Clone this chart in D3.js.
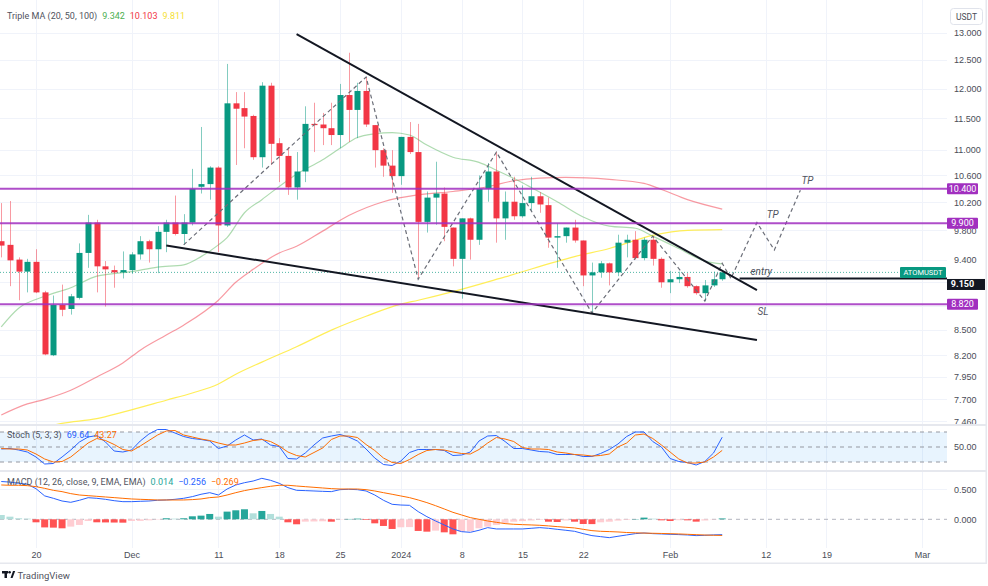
<!DOCTYPE html>
<html>
<head>
<meta charset="utf-8">
<script src="https://cdn.jsdelivr.net/npm/d3@7"></script>
<style>
  body { margin: 0; background: #ffffff; }
  svg { display: block; font-family: Roboto, "Liberation Sans", sans-serif; }
</style>
</head>
<body>
<svg id="chart" width="988" height="586" viewBox="0 0 988 586"></svg>
<script>
  // ATOM/USDT daily candles, 16 Nov 2023 .. 7 Feb 2024
  const firstDay = "2023-11-16";

  // [open, high, low, close]
  const ohlc = [
    [9.65, 10.19, 9.43, 9.59], [9.60, 10.22, 9.05, 9.39], [9.40, 9.43, 8.87, 9.24], [9.24, 9.41, 8.97, 9.37],
    [9.37, 9.54, 8.96, 8.97], [8.97, 8.99, 8.20, 8.21], [8.20, 8.93, 8.19, 8.81], [8.81, 9.07, 8.67, 8.75],
    [8.76, 8.95, 8.69, 8.92], [8.90, 9.62, 8.88, 9.49], [9.49, 10.02, 9.29, 9.91], [9.91, 9.95, 8.97, 9.31],
    [9.31, 9.38, 8.79, 9.27], [9.26, 9.32, 9.03, 9.23], [9.23, 9.51, 9.15, 9.26], [9.26, 9.50, 9.21, 9.47],
    [9.47, 9.72, 9.40, 9.65], [9.65, 9.67, 9.36, 9.54], [9.54, 9.86, 9.22, 9.78], [9.78, 9.95, 9.50, 9.91],
    [9.91, 10.30, 9.73, 9.75], [9.75, 10.03, 9.60, 9.91], [9.91, 10.70, 9.87, 10.40], [10.43, 11.36, 10.33, 10.47],
    [10.47, 10.74, 10.24, 10.72], [10.72, 10.74, 9.50, 9.87], [9.87, 12.43, 9.85, 11.75], [11.75, 11.94, 10.76, 11.66],
    [11.67, 11.94, 11.02, 11.53], [11.54, 11.56, 10.84, 10.88], [10.88, 12.11, 10.72, 12.05], [12.05, 12.10, 10.76, 11.09],
    [11.10, 11.18, 10.50, 10.90], [10.90, 11.04, 10.31, 10.42], [10.42, 10.96, 10.24, 10.66], [10.66, 11.70, 10.50, 11.41],
    [11.41, 11.76, 10.96, 11.39], [11.40, 11.59, 11.07, 11.34], [11.34, 11.76, 11.07, 11.23], [11.23, 12.08, 11.02, 11.89],
    [11.89, 12.63, 11.12, 11.64], [11.64, 12.10, 11.18, 11.96], [11.96, 12.20, 11.36, 11.40], [11.39, 11.39, 10.72, 10.99],
    [10.99, 11.02, 10.58, 10.75], [10.75, 10.99, 10.34, 10.59], [10.59, 11.20, 10.46, 11.20], [11.20, 11.44, 10.93, 10.96],
    [10.96, 11.41, 9.14, 9.92], [9.92, 10.36, 9.77, 10.27], [10.27, 10.81, 9.88, 10.33], [10.33, 10.42, 9.65, 9.85],
    [9.84, 9.84, 9.31, 9.41], [9.41, 9.97, 8.89, 9.97], [9.97, 9.98, 9.40, 9.67], [9.67, 10.60, 9.60, 10.40],
    [10.40, 10.79, 10.21, 10.66], [10.66, 10.96, 9.63, 9.97], [9.97, 10.36, 9.67, 10.21], [10.21, 10.58, 9.95, 10.00],
    [10.00, 10.45, 9.98, 10.19], [10.19, 10.58, 10.07, 10.29], [10.29, 10.35, 10.05, 10.17], [10.16, 10.27, 9.56, 9.70],
    [9.70, 9.90, 9.29, 9.72], [9.72, 9.84, 9.63, 9.84], [9.84, 9.95, 9.63, 9.66], [9.66, 9.66, 9.05, 9.19],
    [9.19, 9.36, 8.71, 9.23], [9.23, 9.38, 9.16, 9.35], [9.35, 9.36, 9.06, 9.23], [9.23, 9.74, 9.18, 9.63],
    [9.63, 9.74, 9.43, 9.67], [9.67, 9.79, 9.40, 9.42], [9.42, 9.70, 9.39, 9.67], [9.67, 9.72, 9.32, 9.41],
    [9.41, 9.43, 9.03, 9.10], [9.10, 9.25, 8.96, 9.14], [9.14, 9.24, 9.09, 9.17], [9.17, 9.22, 9.03, 9.05],
    [9.05, 9.06, 8.94, 8.96], [8.96, 9.13, 8.86, 9.06], [9.06, 9.24, 9.04, 9.14], [9.14, 9.24, 9.12, 9.23]
  ];

  // moving averages: [candle index, value]
  const ma20 = [[0, 8.54], [2, 8.77], [5, 8.92], [8, 9.03], [11, 9.18], [15, 9.24], [18, 9.30], [21, 9.33],
    [23, 9.44], [25, 9.60], [26, 9.70], [28, 10.05], [30, 10.24], [34, 10.62], [37, 10.84], [39, 11.02],
    [41, 11.19], [43, 11.25], [45, 11.27], [47, 11.23], [49, 11.07], [52, 10.88], [55, 10.80], [57, 10.68],
    [60, 10.49], [61, 10.42], [64, 10.21], [67, 9.99], [70, 9.86], [73, 9.83], [75, 9.72], [78, 9.55],
    [81, 9.38], [83, 9.342]];
  const ma50 = [[0, 7.53], [3, 7.65], [5, 7.70], [8, 7.80], [11, 7.95], [14, 8.11], [16, 8.26], [19, 8.44],
    [21, 8.56], [25, 8.87], [27, 9.10], [29, 9.27], [32, 9.49], [34, 9.58], [37, 9.79], [40, 10.01],
    [44, 10.21], [48, 10.31], [52, 10.36], [56, 10.43], [59, 10.52], [62, 10.56], [65, 10.57], [70, 10.54],
    [74, 10.48], [76, 10.39], [79, 10.24], [83, 10.103]];
  const ma100 = [[5, 7.40], [7, 7.44], [11, 7.49], [14, 7.56], [19, 7.69], [22, 7.77], [25, 7.87], [27, 7.98],
    [30, 8.12], [34, 8.30], [38, 8.50], [42, 8.67], [46, 8.82], [48, 8.87], [52, 8.98], [58, 9.17],
    [66, 9.44], [70, 9.55], [75, 9.73], [79, 9.80], [83, 9.811]];

  const stochK = [46, 47, 44, 40, 30, 16, 17, 30, 44, 60, 70, 73, 60, 42, 40, 44, 62, 76, 85, 85,
    78, 71, 67, 65, 62, 47, 52, 64, 74, 64, 66, 54, 51, 27, 26, 38, 54, 68, 72, 75,
    70, 62, 46, 28, 15, 13, 22, 39, 45, 45, 45, 43, 33, 34, 40, 62, 72, 73, 61, 47,
    47, 44, 41, 40, 35, 35, 35, 31, 31, 37, 45, 56, 71, 80, 80, 61, 50, 27, 21, 19,
    14, 21, 38, 69.64];
  const stochD = [47, 46, 46, 44, 36, 26, 20, 21, 30, 44, 58, 67, 63, 55, 45, 42, 52, 63, 74, 82,
    83, 74, 70, 66, 63, 58, 54, 54, 58, 63, 65, 61, 52, 40, 33, 30, 39, 48, 65, 72,
    72, 69, 55, 43, 28, 19, 17, 25, 35, 43, 45, 44, 40, 37, 36, 45, 58, 69, 66, 61,
    49, 46, 46, 45, 40, 38, 35, 34, 32, 33, 36, 50, 58, 74, 76, 67, 54, 40, 26, 18,
    18, 20, 30, 43.27];

  const macdLine = [0.63, 0.62, 0.60, 0.585, 0.51, 0.39, 0.35, 0.305, 0.283, 0.317,
    0.36, 0.35, 0.333, 0.31, 0.294, 0.294, 0.30, 0.305, 0.317, 0.322,
    0.333, 0.35, 0.378, 0.417, 0.444, 0.405, 0.505, 0.572, 0.61, 0.638,
    0.683, 0.65, 0.60, 0.528, 0.483, 0.478, 0.472, 0.466, 0.461, 0.494,
    0.50, 0.494, 0.472, 0.405, 0.317, 0.25, 0.238, 0.233, 0.128, 0.044,
    -0.028, -0.094, -0.161, -0.206, -0.217, -0.183, -0.139, -0.161, -0.161, -0.161,
    -0.161, -0.15, -0.139, -0.15, -0.167, -0.183, -0.20, -0.239, -0.272, -0.289,
    -0.306, -0.283, -0.261, -0.239, -0.228, -0.239, -0.244, -0.25, -0.255, -0.261,
    -0.272, -0.267, -0.26, -0.256];
  const macdSignal = [0.572, 0.567, 0.567, 0.561, 0.544, 0.516, 0.483, 0.461, 0.428, 0.405,
    0.394, 0.383, 0.372, 0.361, 0.35, 0.339, 0.333, 0.328, 0.322, 0.322,
    0.322, 0.322, 0.328, 0.339, 0.361, 0.372, 0.405, 0.444, 0.478, 0.505,
    0.528, 0.55, 0.567, 0.567, 0.555, 0.544, 0.533, 0.522, 0.511, 0.505,
    0.505, 0.505, 0.494, 0.472, 0.444, 0.417, 0.389, 0.361, 0.322, 0.278,
    0.227, 0.172, 0.116, 0.072, 0.028, 0.0, -0.028, -0.05, -0.072, -0.083,
    -0.089, -0.094, -0.10, -0.11, -0.122, -0.133, -0.144, -0.167, -0.189, -0.20,
    -0.205, -0.211, -0.22, -0.225, -0.23, -0.233, -0.236, -0.24, -0.244, -0.25,
    -0.256, -0.262, -0.266, -0.269];
  const macdHist = [0.072, 0.044, 0.017, 0.011, -0.05, -0.135, -0.139, -0.15, -0.122, -0.094,
    -0.028, -0.05, -0.052, -0.054, -0.056, -0.028, -0.026, -0.017, -0.006, 0.017,
    0.011, 0.017, 0.05, 0.061, 0.089, 0.044, 0.128, 0.15, 0.167, 0.1,
    0.139, 0.089, 0.044, -0.05, -0.083, -0.039, -0.036, -0.033, -0.04, -0.006,
    0.006, 0.011, -0.011, -0.067, -0.111, -0.161, -0.133, -0.13, -0.194, -0.206,
    -0.189, -0.217, -0.25, -0.206, -0.2, -0.15, -0.122, -0.094, -0.06, -0.04,
    -0.03, -0.02, -0.01, -0.04, -0.045, -0.02, -0.04, -0.078, -0.08, -0.05,
    -0.04, -0.022, -0.01, 0.005, 0.028, 0.011, -0.017, -0.028, -0.015, -0.017,
    -0.039, -0.02, -0.005, 0.014];

  const priceTicks = [13, 12.5, 12, 11.5, 11, 10.6, 10.2, 9.8, 9.4, 8.5, 8.2, 7.95, 7.7, 7.46];
  const hiddenTicks = [9.1, 8.8];
  const dateTicks = ["2023-11-20", "2023-12-01", "2023-12-11", "2023-12-18", "2023-12-25", "2024-01-01",
    "2024-01-08", "2024-01-15", "2024-01-22", "2024-02-01", "2024-02-12", "2024-02-19", "2024-03-01"];
  const dateLabels = ["20", "Dec", "11", "18", "25", "2024", "8", "15", "22", "Feb", "12", "19", "Mar"];

  // drawings on the chart
  const levels = [10.40, 9.90, 8.82];
  const entryPrice = 9.15;
  const upperTrend = [[34, 12.97], [87, 9.00]];
  const lowerTrend = [[19, 9.59], [87, 8.38]];
  const zigzag = [[21, 9.60], [42, 12.20], [48, 9.14], [57, 10.96], [68, 8.71], [75, 9.72], [81, 8.86],
    [83, 9.35], [84, 9.15], [87, 9.91], [89, 9.53], [92, 10.38]];
  const notes = [["entry", 87.5, 9.24], ["TP", 88.8, 10.02], ["TP", 92.8, 10.53], ["SL", 87.7, 8.73]];

  const DAY = 864e5;
  const t0 = Date.parse(firstDay);
  const dayAt = i => new Date(t0 + i * DAY);
  const plotRight = 947;

  const GREEN = "#089981", RED = "#f23645", BLUE = "#2962ff", ORANGE = "#ff6d00";
  const AXIS = "#4a4d57", GRID = "#f0f3fa", SEP = "#e6e8ee", PURPLE = "#a12fbf";

  let svg = d3.select("#chart");

  const x = d3.scaleUtc()
    .domain([Date.UTC(2023, 10, 20), Date.UTC(2024, 2, 1)])
    .range([36, 922]);
  const y = d3.scaleLog().domain([12.5, 7.7]).range([60, 399.3]);
  const yStoch = d3.scaleLinear().domain([20, 80]).range([462, 432]);
  const yMacd = d3.scaleLinear().domain([0, 0.5]).range([519.3, 489.3]);
  const xi = i => x(dayAt(i));

  svg.append("rect").attr("width", 988).attr("height", 586).attr("fill", "#ffffff");

  const defs = svg.append("defs");
  function clip(id, y0, y1, w) {
    defs.append("clipPath").attr("id", id)
      .append("rect").attr("x", 0).attr("y", y0).attr("width", w || plotRight).attr("height", y1 - y0);
    return `url(#${id})`;
  }
  const clipMain = clip("c-main", 0, 424);
  const clipStoch = clip("c-stoch", 425, 470);
  const clipMacd = clip("c-macd", 471, 546);
  const clipAxis = clip("c-axis", 0, 424, 988);

  // grid
  const grid = svg.append("g").attr("stroke", GRID).attr("stroke-width", 1);
  grid.selectAll(".v").data(dateTicks).join("line")
    .attr("x1", d => Math.round(x(new Date(d))) + 0.5).attr("x2", d => Math.round(x(new Date(d))) + 0.5)
    .attr("y1", 0).attr("y2", 548);
  grid.selectAll(".h").data(priceTicks.concat(hiddenTicks)).join("line")
    .attr("x1", 0).attr("x2", plotRight)
    .attr("y1", d => Math.round(y(d)) + 0.5).attr("y2", d => Math.round(y(d)) + 0.5);
  grid.append("line").attr("x1", 0).attr("x2", plotRight)
    .attr("y1", Math.round(yMacd(0.5)) + 0.5).attr("y2", Math.round(yMacd(0.5)) + 0.5);

  // main pane
  const main = svg.append("g").attr("clip-path", clipMain);

  const maLine = d3.line().x(d => xi(d[0])).y(d => y(d[1])).curve(d3.curveMonotoneX);
  [[ma100, "rgba(255,235,59,0.85)"], [ma50, "rgba(242,54,69,0.5)"], [ma20, "rgba(76,175,80,0.45)"]]
    .forEach(([data, color]) => {
      main.append("path").attr("d", maLine(data))
        .attr("fill", "none").attr("stroke", color).attr("stroke-width", 1.2);
    });

  // last price dotted line
  const lastClose = ohlc[ohlc.length - 1][3];
  main.append("line").attr("x1", 0).attr("x2", plotRight)
    .attr("y1", y(lastClose)).attr("y2", y(lastClose))
    .attr("stroke", GREEN).attr("stroke-width", 1).attr("stroke-dasharray", "1 2").attr("opacity", 0.7);

  const candles = main.selectAll(".candle").data(ohlc).join("g");
  candles.append("line")
    .attr("x1", (d, i) => Math.round(xi(i)) + 0.5).attr("x2", (d, i) => Math.round(xi(i)) + 0.5)
    .attr("y1", d => y(d[1])).attr("y2", d => y(d[2]))
    .attr("stroke", d => d[3] >= d[0] ? GREEN : RED).attr("stroke-opacity", 0.5);
  candles.append("rect")
    .attr("x", (d, i) => Math.round(xi(i)) - 2.5).attr("width", 6)
    .attr("y", d => y(Math.max(d[0], d[3])))
    .attr("height", d => Math.max(1, y(Math.min(d[0], d[3])) - y(Math.max(d[0], d[3]))))
    .attr("fill", d => d[3] >= d[0] ? GREEN : RED);

  const drawLine = d3.line().x(d => xi(d[0])).y(d => y(d[1]));
  main.append("path").attr("d", drawLine(zigzag))
    .attr("fill", "none").attr("stroke", "#6b6e78").attr("stroke-width", 1.2).attr("stroke-dasharray", "4 3");

  [upperTrend, lowerTrend].forEach(t => {
    main.append("path").attr("d", drawLine(t))
      .attr("fill", "none").attr("stroke", "#131722").attr("stroke-width", 2);
  });

  main.selectAll(".level").data(levels).join("line")
    .attr("x1", 0).attr("x2", plotRight)
    .attr("y1", d => y(d)).attr("y2", d => y(d))
    .attr("stroke", PURPLE).attr("stroke-opacity", 0.85).attr("stroke-width", 2);

  main.append("line").attr("x1", xi(85)).attr("x2", plotRight)
    .attr("y1", y(entryPrice)).attr("y2", y(entryPrice))
    .attr("stroke", "#131722").attr("stroke-width", 2);

  main.selectAll(".note").data(notes).join("text")
    .attr("x", d => xi(d[1])).attr("y", d => y(d[2]))
    .attr("text-anchor", "middle").attr("dominant-baseline", "central")
    .attr("font-size", 10).attr("font-style", "italic").attr("fill", "#50535e")
    .text(d => d[0]);

  // ATOMUSDT tag
  main.append("rect").attr("x", 900).attr("y", y(lastClose) - 5.5).attr("width", 46).attr("height", 11)
    .attr("rx", 1).attr("fill", GREEN);
  main.append("text").attr("x", 923).attr("y", y(lastClose)).attr("text-anchor", "middle")
    .attr("dominant-baseline", "central").attr("font-size", 7.5).attr("fill", "#ffffff").text("ATOMUSDT");

  // stochastic pane
  const stoch = svg.append("g").attr("clip-path", clipStoch);
  stoch.append("rect").attr("x", 0).attr("width", plotRight)
    .attr("y", yStoch(80)).attr("height", yStoch(20) - yStoch(80))
    .attr("fill", "#2196f3").attr("fill-opacity", 0.1);
  stoch.selectAll(".band").data([80, 50, 20]).join("line")
    .attr("x1", 0).attr("x2", plotRight)
    .attr("y1", d => yStoch(d)).attr("y2", d => yStoch(d))
    .attr("stroke", "#9598a1").attr("stroke-dasharray", "4 4").attr("stroke-width", 1);
  const stLine = d3.line().x((d, i) => xi(i)).y(d => yStoch(d));
  stoch.append("path").attr("d", stLine(stochK)).attr("fill", "none").attr("stroke", BLUE).attr("stroke-width", 1);
  stoch.append("path").attr("d", stLine(stochD)).attr("fill", "none").attr("stroke", ORANGE).attr("stroke-width", 1);

  // MACD pane
  const macd = svg.append("g").attr("clip-path", clipMacd);
  macd.append("line").attr("x1", 0).attr("x2", plotRight)
    .attr("y1", yMacd(0)).attr("y2", yMacd(0))
    .attr("stroke", "#b2b5be").attr("stroke-dasharray", "4 4");
  function histColor(v, prev) {
    if (v >= 0) return prev < v ? "#26a69a" : "#b2dfdb";
    return prev < v ? "#ffcdd2" : "#ff5252";
  }
  macd.selectAll(".bar").data(macdHist).join("rect")
    .attr("x", (d, i) => xi(i) - 3.5).attr("width", 7)
    .attr("y", d => yMacd(Math.max(0, d)))
    .attr("height", d => Math.abs(yMacd(d) - yMacd(0)))
    .attr("fill", (d, i) => histColor(d, i > 0 ? macdHist[i - 1] : d + 0.01));
  const mLine = d3.line().x((d, i) => xi(i)).y(d => yMacd(d));
  macd.append("path").attr("d", mLine(macdLine)).attr("fill", "none").attr("stroke", BLUE).attr("stroke-width", 1);
  macd.append("path").attr("d", mLine(macdSignal)).attr("fill", "none").attr("stroke", ORANGE).attr("stroke-width", 1);

  // pane separators and frame
  svg.append("rect").attr("x", 0).attr("y", 424).attr("width", 986).attr("height", 2).attr("fill", SEP);
  svg.append("rect").attr("x", 0).attr("y", 470).attr("width", 986).attr("height", 2).attr("fill", SEP);
  svg.append("rect").attr("x", 0).attr("y", 562.5).attr("width", 986).attr("height", 1.5).attr("fill", SEP);
  svg.append("rect").attr("x", 985.5).attr("y", 0).attr("width", 1.5).attr("height", 564).attr("fill", SEP);

  // price axis
  const pAxis = svg.append("g").attr("transform", `translate(${plotRight},0)`).attr("clip-path", clipAxis)
    .call(d3.axisRight(y).tickValues(priceTicks).tickFormat(d3.format(".3f")).tickSize(0).tickPadding(7));
  pAxis.select(".domain").remove();
  pAxis.selectAll("text").attr("fill", AXIS).attr("font-size", 9).attr("font-family", null);

  const sAxis = svg.append("g").attr("transform", `translate(${plotRight},0)`)
    .call(d3.axisRight(yStoch).tickValues([50]).tickFormat(d3.format(".2f")).tickSize(0).tickPadding(7));
  const mAxis = svg.append("g").attr("transform", `translate(${plotRight},0)`)
    .call(d3.axisRight(yMacd).tickValues([0.5, 0]).tickFormat(d3.format(".3f")).tickSize(0).tickPadding(7));
  [sAxis, mAxis].forEach(a => {
    a.select(".domain").remove();
    a.selectAll("text").attr("fill", AXIS).attr("font-size", 9).attr("font-family", null);
  });

  // price axis tags
  const tags = svg.append("g");
  levels.forEach(v => {
    tags.append("rect").attr("x", 947).attr("y", y(v) - 5.5).attr("width", 31).attr("height", 11)
      .attr("rx", 1).attr("fill", PURPLE);
    tags.append("text").attr("x", 962.5).attr("y", y(v)).attr("text-anchor", "middle")
      .attr("dominant-baseline", "central").attr("font-size", 9).attr("fill", "#ffffff")
      .text(d3.format(".3f")(v));
  });
  tags.append("rect").attr("x", 947).attr("y", y(entryPrice) + 0.5).attr("width", 38).attr("height", 11)
    .attr("fill", "#131722");
  tags.append("text").attr("x", 962.5).attr("y", y(entryPrice) + 6).attr("text-anchor", "middle")
    .attr("dominant-baseline", "central").attr("font-size", 9).attr("font-weight", "bold").attr("fill", "#ffffff")
    .text(d3.format(".3f")(entryPrice));

  svg.append("rect").attr("x", 950.5).attr("y", 8.5).attr("width", 32).attr("height", 16).attr("rx", 3)
    .attr("fill", "#ffffff").attr("stroke", "#e0e3eb");
  svg.append("text").attr("x", 966.5).attr("y", 17).attr("text-anchor", "middle").attr("dominant-baseline", "central")
    .attr("font-size", 8.5).attr("fill", AXIS).text("USDT");

  // time axis
  const tAxis = svg.append("g").attr("transform", "translate(0,549)")
    .call(d3.axisBottom(x).tickValues(dateTicks.map(d => new Date(d)))
      .tickFormat((d, i) => dateLabels[i]).tickSize(0).tickPadding(3));
  tAxis.select(".domain").remove();
  tAxis.selectAll("text").attr("fill", AXIS).attr("font-size", 9).attr("font-family", null);

  // legends
  function legend(yPos, parts) {
    const t = svg.append("text").attr("x", 7).attr("y", yPos).attr("font-size", 9).attr("dominant-baseline", "central");
    parts.forEach(([s, c], k) => t.append("tspan").attr("fill", c).attr("dx", k ? 5 : 0).text(s));
  }
  const f3 = v => d3.format(".3f")(v).replace("-", "\u2212");
  legend(16, [["Triple MA (20, 50, 100)", "#50535e"], [f3(ma20[ma20.length - 1][1]), "#4caf50"],
    [f3(ma50[ma50.length - 1][1]), RED], [f3(ma100[ma100.length - 1][1]), "#f5e133"]]);
  legend(435, [["Stoch (5, 3, 3)", "#50535e"], [d3.format(".2f")(stochK[stochK.length - 1]), BLUE],
    [d3.format(".2f")(stochD[stochD.length - 1]), ORANGE]]);
  legend(482, [["MACD (12, 26, close, 9, EMA, EMA)", "#50535e"], [f3(macdHist[macdHist.length - 1]), "#26a69a"],
    [f3(macdLine[macdLine.length - 1]), BLUE], [f3(macdSignal[macdSignal.length - 1]), ORANGE]]);

  // TradingView mark
  const logo = svg.append("g").attr("fill", "#131722");
  logo.append("rect").attr("x", 2).attr("y", 571).attr("width", 6).attr("height", 2.5);
  logo.append("rect").attr("x", 4.5).attr("y", 571).attr("width", 2.5).attr("height", 7);
  logo.append("circle").attr("cx", 9.6).attr("cy", 572.3).attr("r", 1.3);
  logo.append("path").attr("d", "M10.5 578 L13 571 L15.2 571 L12.6 578 Z");
  svg.append("text").attr("x", 17.5).attr("y", 575).attr("dominant-baseline", "central")
    .attr("font-size", 9.5).attr("fill", "#50535e").text("TradingView");
</script>
</body>
</html>
